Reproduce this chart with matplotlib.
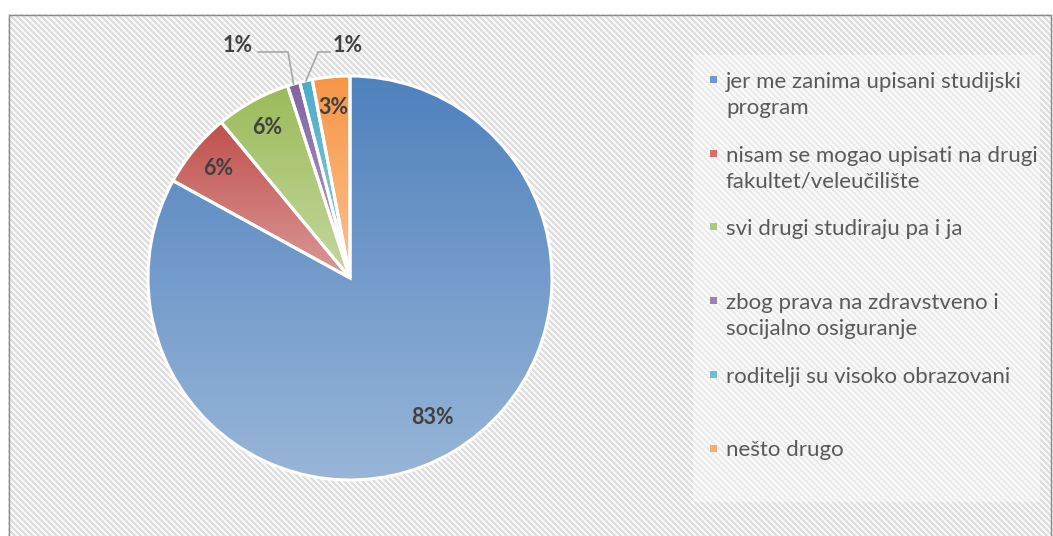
import numpy as np
import matplotlib
matplotlib.use("Agg")
import matplotlib.pyplot as plt
from matplotlib.colors import to_rgb
from matplotlib.patches import Rectangle

plt.rcParams['font.family'] = ['Lato', 'DejaVu Sans']

labels = ["jer me zanima upisani studijski\nprogram",
          "nisam se mogao upisati na drugi\nfakultet/veleučilište",
          "svi drugi studiraju pa i ja",
          "zbog prava na zdravstveno i\nsocijalno osiguranje",
          "roditelji su visoko obrazovani",
          "nešto drugo"]
values = [83, 6, 6, 1, 1, 3]
colors = ["#4f81bd", "#c0504d", "#9bbb59", "#8064a2", "#4bacc6", "#f79646"]

W, H = 1053, 536
fig = plt.figure(figsize=(W / 100, H / 100), dpi=100)

# striped background inside the chart border
bg = fig.add_axes([0, 0, 1, 1])
bg.set_xlim(0, W)
bg.set_ylim(H, 0)
bg.axis("off")
yy, xx = np.mgrid[0:H, 0:W]
stripe = ((xx - yy) % 6) < 3
img = np.where(stripe, 0.87, 0.97)
img[:14, :] = 1.0
img[:, :8] = 1.0
bg.imshow(img, cmap="gray", vmin=0, vmax=1, extent=[0, W, H, 0],
          interpolation="nearest", aspect="auto")
bg.add_patch(Rectangle((8.5, 14.5), W - 11, H, fill=False, ec="#8c8c8c", lw=1))
# lighter legend area
bg.add_patch(Rectangle((693, 55), 347, 447, fc="white", ec="none", alpha=0.4))

# pie
cx, cy, r = 350, 278, 202
ax = fig.add_axes([(cx - r) / W, (H - cy - r) / H, 2 * r / W, 2 * r / H])
wedges, _ = ax.pie(values, startangle=90, counterclock=False, radius=1,
                   colors=colors, wedgeprops=dict(edgecolor="white", linewidth=2.2))
ax.axis("off")

for w, c in zip(wedges, colors):
    dark = np.array(to_rgb(c))
    light = dark + 0.42 * (1 - dark)
    t = np.linspace(0, 1, 256)[:, None]
    grad = dark[None, :] * (1 - t) + light[None, :] * t
    grad = grad[:, None, :]
    verts = w.get_patch_transform().transform(w.get_path().vertices)
    x0, y0 = verts.min(axis=0)
    x1, y1 = verts.max(axis=0)
    im = ax.imshow(grad, extent=[x0, x1, y0, y1], origin="upper",
                   aspect="auto", interpolation="bilinear", zorder=1)
    im.set_clip_path(w)
    w.set_facecolor("none")
    w.set_zorder(2)

ax.set_xlim(-1, 1)
ax.set_ylim(-1, 1)

lab_col = "#404040"
outside = {3: (-0.554, 1.153, -0.455, -0.307), 4: (-0.01, 1.153, -0.099, -0.158)}
for i, w in enumerate(wedges):
    mid = np.deg2rad((w.theta1 + w.theta2) / 2)
    txt = f"{values[i]}%"
    if i in outside:
        tx, ty, lx0, lx1 = outside[i]
        ax.text(tx, ty, txt, ha="center", va="center", fontsize=15.5,
                fontweight="bold", color=lab_col, clip_on=False)
        ax.plot([lx0, lx1, np.cos(mid)], [1.119, 1.119, np.sin(mid)],
                color="#a6a6a6", lw=1.2, clip_on=False, zorder=3)
    else:
        rr = 0.8 if i == 0 else 0.85
        ax.text(rr * np.cos(mid), rr * np.sin(mid), txt, ha="center", va="center",
                fontsize=15.5, fontweight="bold", color=lab_col, zorder=4)

# legend
leg_top = 80
step = 73.7
for i, (lab, c) in enumerate(zip(labels, colors)):
    y = leg_top + i * step
    dark = np.array(to_rgb(c))
    bg.add_patch(Rectangle((710, y - 4), 7, 7, fc=dark + 0.2 * (1 - dark), ec="none"))
    for j, line in enumerate(lab.split("\n")):
        bg.text(726, y + j * 26, line, ha="left", va="center_baseline",
                fontsize=16, color="#595959")

fig.savefig("out.png", dpi=100)
